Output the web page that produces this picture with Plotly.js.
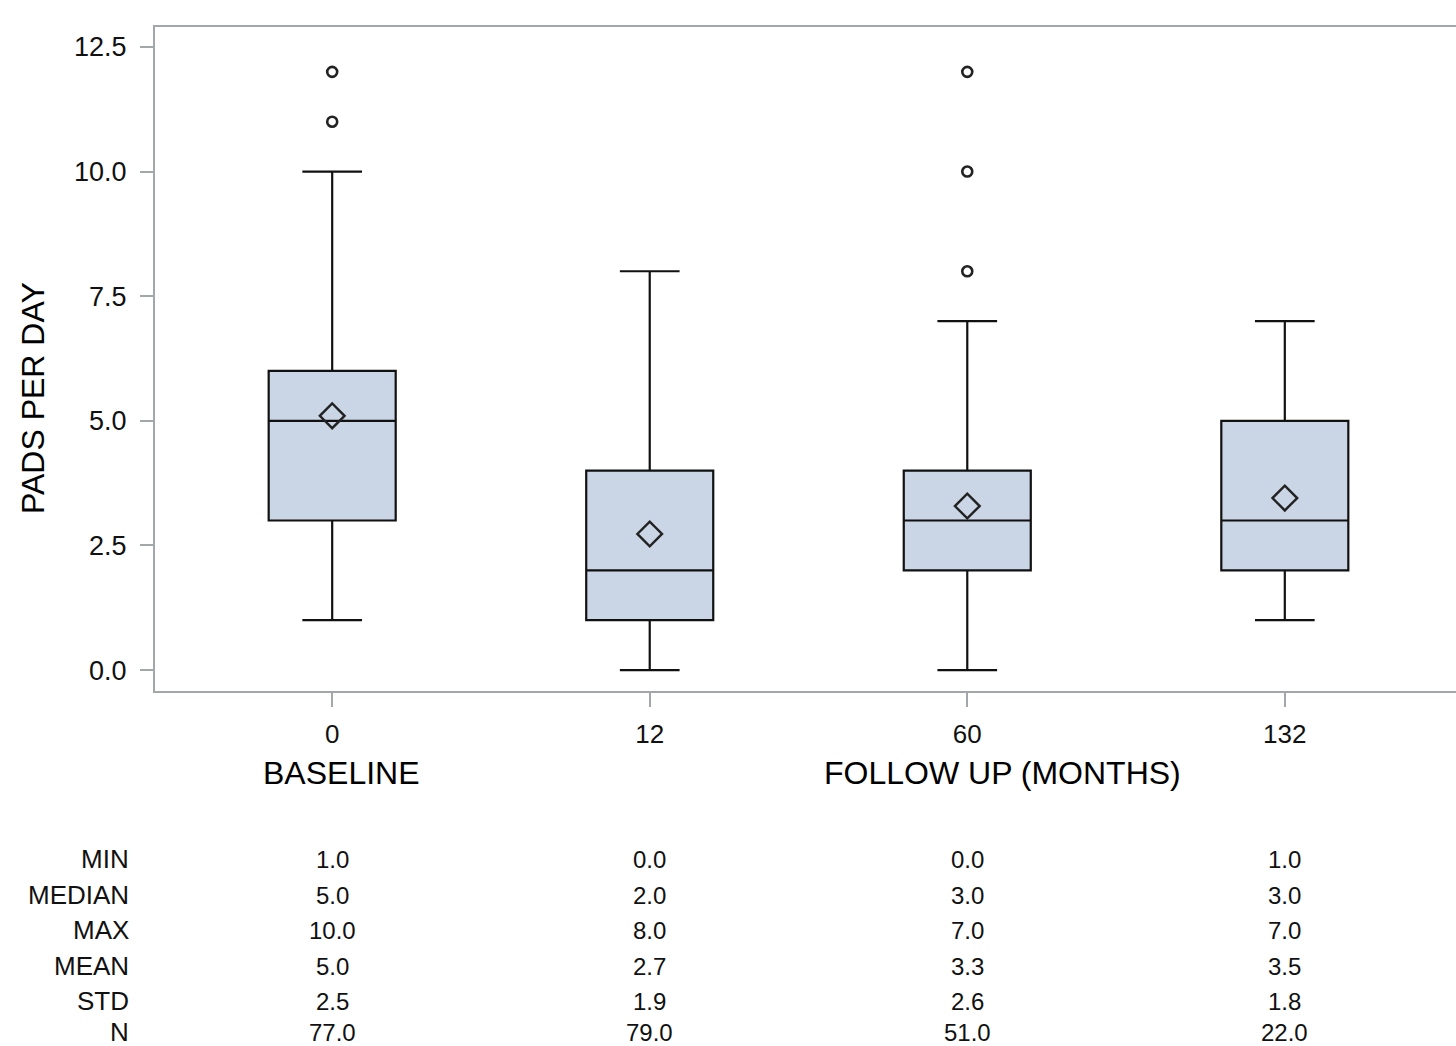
<!DOCTYPE html>
<html>
<head>
<meta charset="utf-8">
<script src="https://cdn.plot.ly/plotly-3.0.1.min.js"></script>
<style>
  html, body { margin: 0; padding: 0; overflow: hidden; background: #fff; }
  #chart { width: 1462px; height: 1046px; }
</style>
</head>
<body>
<div id="chart"></div>
<script>
// ---- Data ----
const categories   = ["0", "12", "60", "132"];
const q1Values     = [3, 1, 2, 2];
const medianValues = [5, 2, 3, 3];
const q3Values     = [6, 4, 4, 5];
const lowWhisker   = [1, 0, 0, 1];
const highWhisker  = [10, 8, 7, 7];
const meanMarkers  = [5.1, 2.73, 3.29, 3.45];
const outlierCats  = ["0", "0", "60", "60", "60"];
const outlierVals  = [11, 12, 8, 10, 12];

// summary table
const tableLabels = ["MIN", "MEDIAN", "MAX", "MEAN", "STD", "N"];
const tableMin    = [1.0, 0.0, 0.0, 1.0];
const tableMedian = [5.0, 2.0, 3.0, 3.0];
const tableMax    = [10.0, 8.0, 7.0, 7.0];
const tableMean   = [5.0, 2.7, 3.3, 3.5];
const tableStd    = [2.5, 1.9, 2.6, 1.8];
const tableN      = [77, 79, 51, 22];
const yTickVals   = [0, 2.5, 5, 7.5, 10, 12.5];

// ---- Layout geometry ----
const W = 1462, H = 1046;
const mL = 155, mR = 0, mT = 27, mB = 355;
const plotH = H - mT - mB;       // 664
const plotW = W - mL - mR;
const pyPaper = (py) => (H - mB - py) / plotH;
const pxPaper = (px) => (px - mL) / plotW;

const FONT = "Arial, 'Liberation Sans', sans-serif";

const traces = [
  {
    type: "box",
    x: categories,
    q1: q1Values,
    median: medianValues,
    q3: q3Values,
    lowerfence: lowWhisker,
    upperfence: highWhisker,
    boxpoints: false,
    width: 0.4,
    whiskerwidth: 0.47,
    fillcolor: "#CAD5E5",
    line: { color: "#111", width: 2.2 },
    hoverinfo: "skip",
    showlegend: false
  },
  {
    type: "scatter",
    mode: "markers",
    x: categories,
    y: meanMarkers,
    marker: { symbol: "diamond-open", size: 19, color: "#222", line: { width: 2.4, color: "#222" } },
    hoverinfo: "skip",
    showlegend: false
  },
  {
    type: "scatter",
    mode: "markers",
    x: outlierCats,
    y: outlierVals,
    marker: { symbol: "circle-open", size: 10, color: "#222", line: { width: 2.6, color: "#222" } },
    hoverinfo: "skip",
    showlegend: false
  }
];

const annotations = [];
// y-axis title
annotations.push({
  xref: "paper", yref: "paper",
  x: pxPaper(33), y: pyPaper(398),
  text: "PADS PER DAY", textangle: -90, showarrow: false,
  xanchor: "center", yanchor: "middle",
  font: { family: FONT, size: 32, color: "#000" }
});
// x-axis titles
annotations.push({
  xref: "x", yref: "paper", x: 0.03, y: pyPaper(773),
  text: "BASELINE", showarrow: false, xanchor: "center", yanchor: "middle",
  font: { family: FONT, size: 32, color: "#000" }
});
annotations.push({
  xref: "x", yref: "paper", x: 2.11, y: pyPaper(773),
  text: "FOLLOW UP (MONTHS)", showarrow: false, xanchor: "center", yanchor: "middle",
  font: { family: FONT, size: 32, color: "#000" }
});

// table
const rows = [tableMin, tableMedian, tableMax, tableMean, tableStd, tableN];
const rowY = [859, 895, 930, 966, 1001, 1032];
tableLabels.forEach((lab, r) => {
  annotations.push({
    xref: "paper", yref: "paper", x: pxPaper(131), y: pyPaper(rowY[r]),
    text: lab, showarrow: false, xanchor: "right", yanchor: "middle",
    font: { family: FONT, size: 26, color: "#111" }
  });
  rows[r].forEach((v, i) => {
    annotations.push({
      xref: "x", yref: "paper", x: i, y: pyPaper(rowY[r]),
      text: Number(v).toFixed(1), showarrow: false, xanchor: "center", yanchor: "middle",
      font: { family: FONT, size: 24, color: "#111" }
    });
  });
});

const layout = {
  width: W, height: H,
  margin: { l: mL, r: mR, t: mT, b: mB, pad: 0 },
  paper_bgcolor: "#fff",
  plot_bgcolor: "#fff",
  showlegend: false,
  font: { family: FONT },
  xaxis: {
    type: "category",
    range: [-0.558, 3.558],
    showgrid: false, zeroline: false,
    showline: true, mirror: true, linecolor: "#A3A7AB", linewidth: 2,
    ticks: "outside", ticklen: 14, tickwidth: 2, tickcolor: "#A3A7AB",
    ticklabelstandoff: 5,
    tickfont: { family: FONT, size: 26, color: "#111" },
    fixedrange: true
  },
  yaxis: {
    range: [-0.42, 12.9],
    tickvals: yTickVals,
    tickformat: ".1f",
    showgrid: false, zeroline: false,
    showline: true, mirror: true, linecolor: "#A3A7AB", linewidth: 2,
    ticks: "outside", ticklen: 13, tickwidth: 2, tickcolor: "#A3A7AB",
    ticklabelstandoff: 8,
    tickfont: { family: FONT, size: 27, color: "#111" },
    fixedrange: true
  },
  annotations: annotations
};

Plotly.newPlot("chart", traces, layout, { staticPlot: true, displayModeBar: false });
</script>
</body>
</html>
